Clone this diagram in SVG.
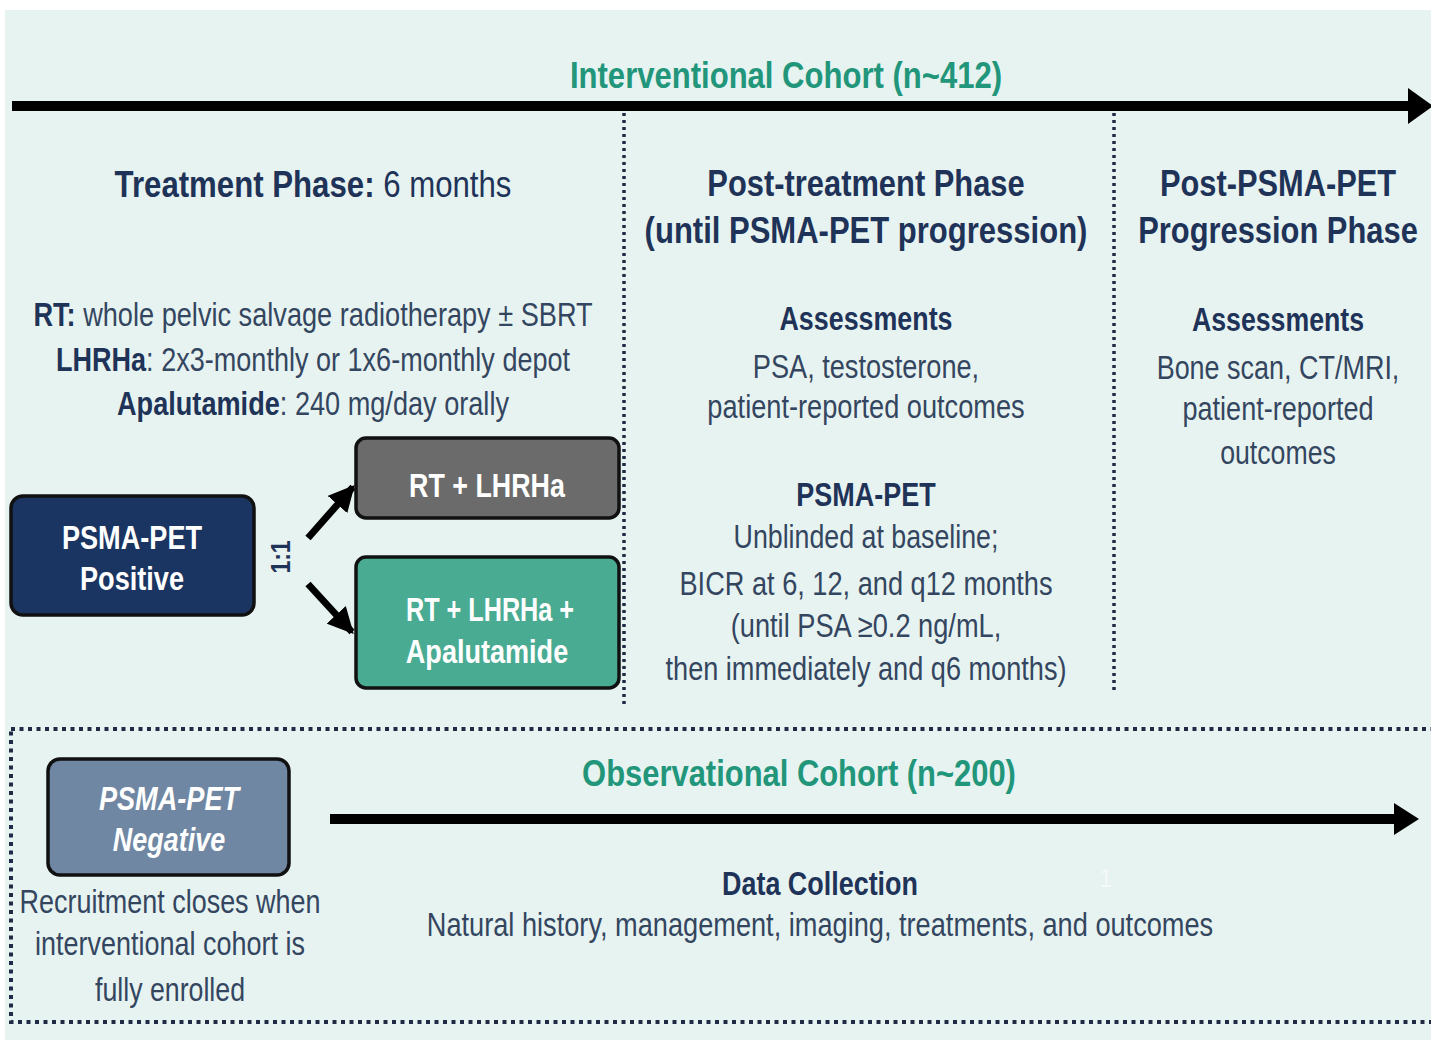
<svg xmlns="http://www.w3.org/2000/svg" width="1431" height="1040" viewBox="0 0 1431 1040">
  <style>
    text { font-family: "Liberation Sans", Arial, sans-serif; text-anchor: middle; }
    .title { font-size: 37px; font-weight: bold; fill: #22967a; }
    .head { font-size: 37px; font-weight: bold; fill: #1f3358; }
    .sub { font-size: 33px; font-weight: bold; fill: #1f3358; }
    .body { font-size: 33px; fill: #34465f; }
    .b { font-weight: bold; fill: #1f3358; }
    .boxtxt { font-size: 33px; font-weight: bold; fill: #ffffff; }
    .node rect { stroke: #111111; stroke-width: 3.5; }
    .divider { stroke: #1f2a44; stroke-width: 3.5; stroke-dasharray: 3 4; }
    .timeline { stroke: #000000; stroke-width: 10; fill: none; }
  </style>
  <defs>
    <marker id="head" viewBox="0 0 10 10" refX="9" refY="5" markerWidth="26" markerHeight="26" markerUnits="userSpaceOnUse" orient="auto">
      <path d="M0,0 L10,5 L0,10 z" fill="#000000"/>
    </marker>
  </defs>

  <!-- page background -->
  <rect x="0" y="0" width="1431" height="1040" fill="#ffffff"/>
  <rect x="5" y="10" width="1426" height="1030" fill="#e7f3f1"/>

  <!-- text uses a narrowed sans: each line is squeezed to 82% around its centre -->
  <g id="interventional-header">
    <text class="title" transform="translate(786,88) scale(0.82,1)" textLength="527" lengthAdjust="spacingAndGlyphs">Interventional Cohort (n~412)</text>
  </g>

  <g id="connectors">
    <!-- main timeline arrow -->
    <line class="timeline" x1="12" y1="106" x2="1412" y2="106"/>
    <polygon points="1408,88 1433,106 1408,124" fill="#000000"/>
    <!-- phase dividers -->
    <line class="divider" x1="624" y1="113" x2="624" y2="705"/>
    <line class="divider" x1="1114" y1="113" x2="1114" y2="693"/>
    <!-- randomisation arrows -->
    <line x1="308" y1="538" x2="353" y2="487" stroke="#000" stroke-width="7" marker-end="url(#head)"/>
    <line x1="308" y1="584" x2="352" y2="632" stroke="#000" stroke-width="7" marker-end="url(#head)"/>
    <!-- observational timeline arrow -->
    <line class="timeline" x1="330" y1="819" x2="1398" y2="819"/>
    <polygon points="1394,803 1419,819 1394,835" fill="#000000"/>
  </g>

  <!-- treatment phase column -->
  <g id="treatment-phase">
    <text class="head" transform="translate(313,197) scale(0.82,1)" textLength="484" lengthAdjust="spacingAndGlyphs">Treatment Phase:<tspan font-weight="normal"> 6 months</tspan></text>
    <text class="body" transform="translate(313,326) scale(0.82,1)" textLength="682" lengthAdjust="spacingAndGlyphs"><tspan class="b">RT:</tspan> whole pelvic salvage radiotherapy ± SBRT</text>
    <text class="body" transform="translate(313,371) scale(0.82,1)" textLength="627" lengthAdjust="spacingAndGlyphs"><tspan class="b">LHRHa</tspan>: 2x3-monthly or 1x6-monthly depot</text>
    <text class="body" transform="translate(313,415) scale(0.82,1)" textLength="478" lengthAdjust="spacingAndGlyphs"><tspan class="b">Apalutamide</tspan>: 240 mg/day orally</text>
  </g>

  <g id="psma-positive" class="node">
    <rect x="11" y="496" width="243" height="119" rx="12" fill="#1b3562"/>
    <text class="boxtxt" transform="translate(132,549) scale(0.82,1)" textLength="171" lengthAdjust="spacingAndGlyphs">PSMA-PET</text>
    <text class="boxtxt" transform="translate(132,590) scale(0.82,1)" textLength="127" lengthAdjust="spacingAndGlyphs">Positive</text>
  </g>

  <g id="ratio">
    <text transform="translate(290,557) rotate(-90) scale(0.82,1)" font-size="28" font-weight="bold" fill="#1f3358">1:1</text>
  </g>

  <g id="arm-control" class="node">
    <rect x="356" y="438" width="263" height="80" rx="10" fill="#6b6b6b"/>
    <text class="boxtxt" transform="translate(487,497) scale(0.82,1)" textLength="190" lengthAdjust="spacingAndGlyphs">RT + LHRHa</text>
  </g>

  <g id="arm-apalutamide" class="node">
    <rect x="356" y="557" width="263" height="131" rx="10" fill="#4aab93"/>
    <text class="boxtxt" transform="translate(490,621) scale(0.82,1)" textLength="205" lengthAdjust="spacingAndGlyphs">RT + LHRHa +</text>
    <text class="boxtxt" transform="translate(487,663) scale(0.82,1)" textLength="198" lengthAdjust="spacingAndGlyphs">Apalutamide</text>
  </g>

  <!-- post-treatment phase column -->
  <g id="post-treatment-phase">
    <text class="head" transform="translate(866,196) scale(0.82,1)" textLength="387" lengthAdjust="spacingAndGlyphs">Post-treatment Phase</text>
    <text class="head" transform="translate(866,243) scale(0.82,1)" textLength="540" lengthAdjust="spacingAndGlyphs">(until PSMA-PET progression)</text>
    <text class="sub" transform="translate(866,330) scale(0.82,1)" textLength="211" lengthAdjust="spacingAndGlyphs">Assessments</text>
    <text class="body" transform="translate(866,378) scale(0.82,1)" textLength="276" lengthAdjust="spacingAndGlyphs">PSA, testosterone,</text>
    <text class="body" transform="translate(866,418) scale(0.82,1)" textLength="387" lengthAdjust="spacingAndGlyphs">patient-reported outcomes</text>
    <text class="sub" transform="translate(866,506) scale(0.82,1)" textLength="170" lengthAdjust="spacingAndGlyphs">PSMA-PET</text>
    <text class="body" transform="translate(866,548) scale(0.82,1)" textLength="323" lengthAdjust="spacingAndGlyphs">Unblinded at baseline;</text>
    <text class="body" transform="translate(866,595) scale(0.82,1)" textLength="455" lengthAdjust="spacingAndGlyphs">BICR at 6, 12, and q12 months</text>
    <text class="body" transform="translate(866,637) scale(0.82,1)" textLength="330" lengthAdjust="spacingAndGlyphs">(until PSA ≥0.2 ng/mL,</text>
    <text class="body" transform="translate(866,680) scale(0.82,1)" textLength="489" lengthAdjust="spacingAndGlyphs">then immediately and q6 months)</text>
  </g>

  <!-- post-progression phase column -->
  <g id="post-progression-phase">
    <text class="head" transform="translate(1278,196) scale(0.82,1)" textLength="288" lengthAdjust="spacingAndGlyphs">Post-PSMA-PET</text>
    <text class="head" transform="translate(1278,243) scale(0.82,1)" textLength="341" lengthAdjust="spacingAndGlyphs">Progression Phase</text>
    <text class="sub" transform="translate(1278,331) scale(0.82,1)" textLength="210" lengthAdjust="spacingAndGlyphs">Assessments</text>
    <text class="body" transform="translate(1278,379) scale(0.82,1)" textLength="296" lengthAdjust="spacingAndGlyphs">Bone scan, CT/MRI,</text>
    <text class="body" transform="translate(1278,420) scale(0.82,1)" textLength="233" lengthAdjust="spacingAndGlyphs">patient-reported</text>
    <text class="body" transform="translate(1278,464) scale(0.82,1)" textLength="141" lengthAdjust="spacingAndGlyphs">outcomes</text>
  </g>

  <!-- observational cohort panel -->
  <g id="observational-cohort">
    <rect x="11" y="729" width="1440" height="293" fill="none" stroke="#1f2a44" stroke-width="4" stroke-dasharray="4 4.5"/>
    <text class="title" transform="translate(799,786) scale(0.82,1)" textLength="529" lengthAdjust="spacingAndGlyphs">Observational Cohort (n~200)</text>
    <text class="sub" transform="translate(820,895) scale(0.82,1)" textLength="239" lengthAdjust="spacingAndGlyphs">Data Collection</text>
    <text class="body" transform="translate(820,936) scale(0.82,1)" textLength="959" lengthAdjust="spacingAndGlyphs">Natural history, management, imaging, treatments, and outcomes</text>
    <text transform="translate(1106,887) scale(0.82,1)" font-size="26" fill="#ffffff" opacity="0.6">1</text>
    <text class="body" transform="translate(170,913) scale(0.82,1)" textLength="367" lengthAdjust="spacingAndGlyphs">Recruitment closes when</text>
    <text class="body" transform="translate(170,955) scale(0.82,1)" textLength="329" lengthAdjust="spacingAndGlyphs">interventional cohort is</text>
    <text class="body" transform="translate(170,1001) scale(0.82,1)" textLength="183" lengthAdjust="spacingAndGlyphs">fully enrolled</text>
  </g>

  <g id="psma-negative" class="node">
    <rect x="48" y="759" width="241" height="116" rx="12" fill="#6f87a3"/>
    <text class="boxtxt" font-style="italic" transform="translate(169,810) scale(0.82,1)" textLength="171" lengthAdjust="spacingAndGlyphs">PSMA-PET</text>
    <text class="boxtxt" font-style="italic" transform="translate(169,851) scale(0.82,1)" textLength="137" lengthAdjust="spacingAndGlyphs">Negative</text>
  </g>
</svg>
